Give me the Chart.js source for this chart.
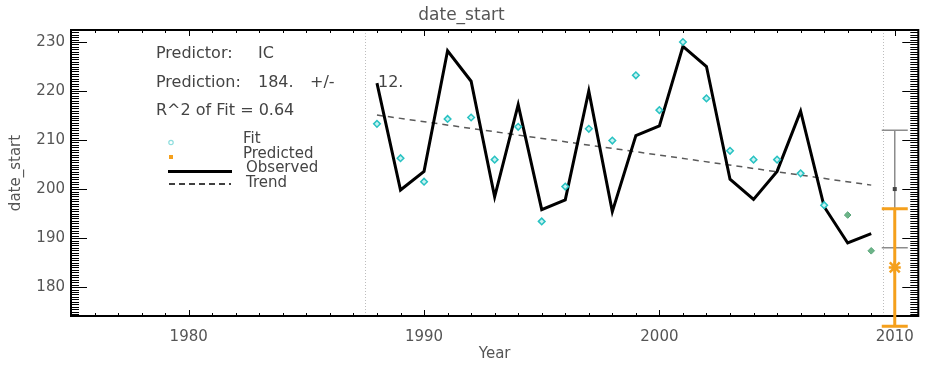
<!DOCTYPE html>
<html>
<head>
<meta charset="utf-8">
<script src="https://cdn.jsdelivr.net/npm/chart.js@4.4.1/dist/chart.umd.min.js"></script>
<style>
  html, body { margin: 0; padding: 0; background: #fff; }
</style>
</head>
<body>
<canvas id="myChart" width="926" height="372"></canvas>
<script>
// yearly observations of date_start
const years = [1988, 1989, 1990, 1991, 1992, 1993, 1994, 1995, 1996, 1997, 1998,
               1999, 2000, 2001, 2002, 2003, 2004, 2005, 2006, 2007, 2008, 2009];
const observed = [221.6, 199.8, 203.6, 228.2, 222.0, 198.4, 217.2, 195.8, 197.8, 220.0, 195.4,
                  210.9, 212.9, 229.1, 225.0, 202.0, 197.9, 203.6, 215.9, 196.4, 189.0, 190.9];

// fitted values inside the training period
const fitYears = [1988, 1989, 1990, 1991, 1992, 1993, 1994, 1995, 1996, 1997,
                  1998, 1999, 2000, 2001, 2002, 2003, 2004, 2005, 2006, 2007];
const fitValues = [213.3, 206.3, 201.5, 214.3, 214.6, 206.0, 212.7, 193.4, 200.5, 212.3,
                   209.9, 223.2, 216.1, 230.0, 218.5, 207.8, 206.0, 206.0, 203.2, 196.7];

// out-of-sample fitted values
const outYears = [2008, 2009];
const outValues = [194.7, 187.4];

// linear trend end points
const trendYears = [1988, 2009];
const trendValues = [215.1, 200.8];

// forecast for the next season and the trend-based reference
const forecastYear = 2010;
const forecastValue = 184;
const forecastError = 12;
const referenceValue = 200;
const referenceError = 12;

const predictor = 'IC';
const rSquared = 0.64;

// dotted separators around the training period
const periodEdges = [1987.5, 2009.5];

const xTicks = [1980, 1990, 2000, 2010];
const yTicks = [180, 190, 200, 210, 220, 230];

const textGrey = '#555';
const font = '"DejaVu Sans", sans-serif';

// box, inward ticks and separators
const frame = {
  id: 'frame',
  beforeDatasetsDraw(chart) {
    const {ctx, chartArea: a, scales: {x}} = chart;
    ctx.save();
    ctx.strokeStyle = '#bdbdbd';
    ctx.lineWidth = 1;
    ctx.setLineDash([1, 2]);
    periodEdges.forEach(v => {
      const px = Math.round(x.getPixelForValue(v)) + 0.5;
      ctx.beginPath();
      ctx.moveTo(px, a.top);
      ctx.lineTo(px, a.bottom);
      ctx.stroke();
    });
    ctx.restore();
  },
  afterDatasetsDraw(chart) {
    const {ctx, chartArea: a, scales: {x, y}} = chart;
    ctx.save();
    ctx.strokeStyle = '#000';
    ctx.lineWidth = 1;
    ctx.beginPath();
    for (let yr = Math.ceil(x.min); yr <= x.max; yr++) {
      const px = Math.round(x.getPixelForValue(yr)) + 0.5;
      const len = yr % 10 === 0 ? 6 : 3;
      ctx.moveTo(px, a.bottom); ctx.lineTo(px, a.bottom - len);
      ctx.moveTo(px, a.top); ctx.lineTo(px, a.top + len);
    }
    for (let v = Math.ceil(y.min * 2) / 2; v <= y.max; v += 0.5) {
      const py = Math.round(y.getPixelForValue(v)) + 0.5;
      const len = v % 10 === 0 ? 16 : 8;
      ctx.moveTo(a.left, py); ctx.lineTo(a.left + len, py);
      ctx.moveTo(a.right, py); ctx.lineTo(a.right - len, py);
    }
    ctx.stroke();
    ctx.lineWidth = 2;
    ctx.strokeRect(a.left, a.top, a.right - a.left, a.bottom - a.top);
    ctx.restore();
  }
};

// forecast error bars at the next year
const errorBars = {
  id: 'errorBars',
  afterDatasetsDraw(chart) {
    const {ctx, scales: {x, y}} = chart;
    const px = x.getPixelForValue(forecastYear);
    const drawBar = (val, err, color, width) => {
      const top = y.getPixelForValue(val + err);
      const bot = y.getPixelForValue(val - err);
      ctx.strokeStyle = color;
      ctx.lineWidth = width;
      ctx.beginPath();
      ctx.moveTo(px, top); ctx.lineTo(px, bot);
      ctx.moveTo(px - 13, top); ctx.lineTo(px + 13, top);
      ctx.moveTo(px - 13, bot); ctx.lineTo(px + 13, bot);
      ctx.stroke();
    };
    ctx.save();
    drawBar(referenceValue, referenceError, '#8c8c8c', 1.5);
    const ry = y.getPixelForValue(referenceValue);
    ctx.fillStyle = '#444';
    ctx.fillRect(px - 2, ry - 2, 4, 4);
    drawBar(forecastValue, forecastError, '#f5a01c', 3);
    // asterisk marker on the forecast
    const fy = y.getPixelForValue(forecastValue);
    ctx.strokeStyle = '#f5a01c';
    ctx.lineWidth = 2.5;
    ctx.beginPath();
    ctx.moveTo(px - 5, fy - 5); ctx.lineTo(px + 5, fy + 5);
    ctx.moveTo(px + 5, fy - 5); ctx.lineTo(px - 5, fy + 5);
    ctx.moveTo(px - 6, fy); ctx.lineTo(px + 6, fy);
    ctx.moveTo(px, fy - 6); ctx.lineTo(px, fy + 6);
    ctx.stroke();
    ctx.restore();
  }
};

// statistics text and the hand-made legend
const notes = {
  id: 'notes',
  afterDraw(chart) {
    const {ctx} = chart;
    ctx.save();
    ctx.fillStyle = '#444';
    ctx.textBaseline = 'middle';
    ctx.font = '16px ' + font;
    ctx.fillText('Predictor:', 156, 54);
    ctx.fillText(predictor, 258, 54);
    ctx.fillText('Prediction:', 156, 82.5);
    ctx.fillText(forecastValue + '.', 258, 82.5);
    ctx.fillText('+/-', 310, 82.5);
    ctx.fillText(forecastError + '.', 378, 82.5);
    ctx.fillText('R^2 of Fit = ' + rSquared.toFixed(2), 156, 111);

    ctx.font = '15px ' + font;
    ctx.fillText('Fit', 243, 139.5);
    ctx.fillText('Predicted', 243, 154.5);
    ctx.fillText('Observed', 246, 168.5);
    ctx.fillText('Trend', 246, 183.5);

    ctx.strokeStyle = '#8fdede';
    ctx.lineWidth = 1.2;
    ctx.beginPath();
    ctx.arc(171, 142.5, 2.2, 0, Math.PI * 2);
    ctx.stroke();
    ctx.fillStyle = '#f5a01c';
    ctx.fillRect(169, 155, 4, 4);

    ctx.strokeStyle = '#000';
    ctx.lineWidth = 3;
    ctx.beginPath();
    ctx.moveTo(168, 171.5); ctx.lineTo(232, 171.5);
    ctx.stroke();
    ctx.lineWidth = 1.5;
    ctx.setLineDash([6, 4]);
    ctx.beginPath();
    ctx.moveTo(169, 184); ctx.lineTo(231, 184);
    ctx.stroke();
    ctx.restore();
  }
};

const toPoints = (xs, ys) => xs.map((v, i) => ({x: v, y: ys[i]}));

new Chart(document.getElementById('myChart'), {
  type: 'scatter',
  data: {
    datasets: [
      {
        label: 'Fit',
        data: toPoints(fitYears, fitValues),
        pointStyle: 'rectRot',
        pointRadius: 3.3,
        borderWidth: 1.5,
        borderColor: '#28c2c2',
        backgroundColor: '#c8f2f2'
      },
      {
        label: 'Predicted fit',
        data: toPoints(outYears, outValues),
        pointStyle: 'rectRot',
        pointRadius: 3.3,
        borderWidth: 1,
        borderColor: '#5aa67a',
        backgroundColor: '#6cb488'
      },
      {
        label: 'Observed',
        data: toPoints(years, observed),
        showLine: true,
        borderColor: '#000',
        borderWidth: 3,
        pointRadius: 0
      },
      {
        label: 'Trend',
        data: toPoints(trendYears, trendValues),
        showLine: true,
        borderColor: '#5a5a5a',
        borderWidth: 1.5,
        borderDash: [6, 5],
        pointRadius: 0
      }
    ]
  },
  options: {
    responsive: false,
    animation: false,
    layout: {
      padding: {left: 0, right: 3, top: 0, bottom: 0}
    },
    scales: {
      x: {
        type: 'linear',
        min: 1975,
        max: 2011,
        grid: {display: false, drawTicks: false},
        border: {display: false},
        afterBuildTicks: s => { s.ticks = xTicks.map(v => ({value: v})); },
        afterFit: s => { s.height = 56; },
        ticks: {
          color: textGrey,
          padding: 12,
          font: {family: font, size: 15},
          callback: v => String(v)
        },
        title: {
          display: true,
          text: 'Year',
          color: textGrey,
          font: {family: font, size: 15},
          padding: {top: 0, bottom: 8.5}
        }
      },
      y: {
        min: 174.1,
        max: 232.45,
        grid: {display: false, drawTicks: false},
        border: {display: false},
        afterBuildTicks: s => { s.ticks = yTicks.map(v => ({value: v})); },
        afterFit: s => { s.width = 71; },
        ticks: {
          color: textGrey,
          padding: 6,
          font: {family: font, size: 15},
          callback: v => String(v)
        },
        title: {
          display: true,
          text: 'date_start',
          color: textGrey,
          font: {family: font, size: 15},
          padding: {top: 7.5, bottom: 0}
        }
      }
    },
    plugins: {
      legend: {display: false},
      tooltip: {enabled: false},
      title: {
        display: true,
        text: 'date_start',
        color: textGrey,
        font: {family: font, size: 17, weight: 'normal'},
        padding: {top: 5, bottom: 4.6}
      }
    }
  },
  plugins: [frame, errorBars, notes]
});
</script>
</body>
</html>
